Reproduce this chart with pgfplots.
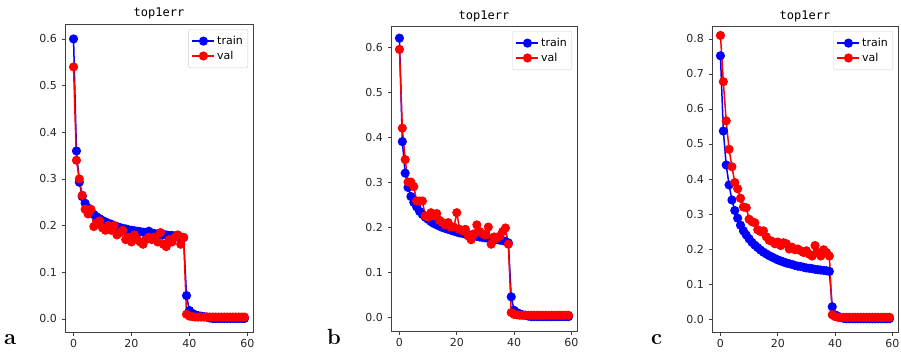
\documentclass[border=0pt]{standalone}
\usepackage{fontspec}
\usepackage{pgfplots}
\usepackage{pgfplotstable}
\pgfplotsset{compat=1.18}
\newfontfamily\djv{DejaVu Sans}
\newfontfamily\djvm{DejaVu Sans Mono}

\pgfplotstableread{
e tr va
0 0.600 0.540
1 0.360 0.340
2 0.293 0.300
3 0.262 0.265
4 0.248 0.235
5 0.238 0.225
6 0.230 0.235
7 0.224 0.198
8 0.219 0.205
9 0.215 0.210
10 0.211 0.195
11 0.208 0.190
12 0.205 0.200
13 0.203 0.190
14 0.200 0.200
15 0.198 0.180
16 0.196 0.185
17 0.194 0.190
18 0.193 0.170
19 0.191 0.175
20 0.190 0.165
21 0.189 0.180
22 0.188 0.170
23 0.187 0.165
24 0.186 0.160
25 0.185 0.170
26 0.188 0.175
27 0.184 0.170
28 0.183 0.175
29 0.182 0.165
30 0.181 0.185
31 0.181 0.160
32 0.180 0.155
33 0.179 0.170
34 0.179 0.165
35 0.178 0.175
36 0.177 0.180
37 0.176 0.160
38 0.174 0.175
39 0.050 0.010
40 0.018 0.006
41 0.012 0.005
42 0.009 0.004
43 0.007 0.004
44 0.006 0.004
45 0.005 0.004
46 0.004 0.004
47 0.002 0.004
48 0.001 0.004
49 0.001 0.004
50 0.001 0.004
51 0.001 0.004
52 0.001 0.004
53 0.001 0.004
54 0.001 0.004
55 0.001 0.004
56 0.001 0.004
57 0.001 0.004
58 0.001 0.004
59 0.001 0.004
}\dataA

\pgfplotstableread{
e tr va
0 0.620 0.595
1 0.390 0.420
2 0.320 0.350
3 0.288 0.300
4 0.268 0.300
5 0.255 0.290
6 0.245 0.258
7 0.235 0.258
8 0.228 0.258
9 0.222 0.225
10 0.217 0.222
11 0.212 0.232
12 0.208 0.225
13 0.205 0.230
14 0.202 0.215
15 0.199 0.210
16 0.197 0.205
17 0.195 0.210
18 0.193 0.200
19 0.191 0.200
20 0.189 0.232
21 0.187 0.195
22 0.186 0.192
23 0.184 0.195
24 0.183 0.180
25 0.182 0.172
26 0.180 0.185
27 0.179 0.205
28 0.178 0.190
29 0.177 0.185
30 0.176 0.182
31 0.175 0.200
32 0.174 0.162
33 0.173 0.178
34 0.172 0.175
35 0.171 0.180
36 0.170 0.190
37 0.168 0.198
38 0.165 0.162
39 0.045 0.010
40 0.015 0.006
41 0.010 0.005
42 0.007 0.004
43 0.005 0.004
44 0.004 0.004
45 0.002 0.004
46 0.001 0.004
47 0.001 0.004
48 0.001 0.004
49 0.001 0.004
50 0.001 0.004
51 0.001 0.004
52 0.001 0.004
53 0.001 0.004
54 0.001 0.004
55 0.001 0.004
56 0.001 0.004
57 0.001 0.004
58 0.001 0.004
59 0.001 0.004
}\dataB

\pgfplotstableread{
e tr va
0 0.752 0.810
1 0.537 0.678
2 0.440 0.566
3 0.383 0.485
4 0.340 0.435
5 0.310 0.390
6 0.288 0.372
7 0.268 0.345
8 0.252 0.320
9 0.240 0.318
10 0.229 0.285
11 0.219 0.278
12 0.211 0.275
13 0.204 0.255
14 0.197 0.250
15 0.191 0.252
16 0.186 0.235
17 0.181 0.225
18 0.177 0.222
19 0.173 0.215
20 0.169 0.220
21 0.166 0.210
22 0.163 0.218
23 0.160 0.215
24 0.158 0.200
25 0.156 0.205
26 0.153 0.198
27 0.151 0.200
28 0.150 0.195
29 0.148 0.190
30 0.146 0.195
31 0.145 0.185
32 0.144 0.180
33 0.142 0.210
34 0.141 0.190
35 0.140 0.180
36 0.139 0.198
37 0.138 0.190
38 0.136 0.180
39 0.035 0.012
40 0.012 0.007
41 0.008 0.005
42 0.004 0.005
43 0.002 0.005
44 0.001 0.005
45 0.001 0.005
46 0.001 0.005
47 0.001 0.005
48 0.001 0.005
49 0.001 0.005
50 0.001 0.005
51 0.001 0.005
52 0.001 0.005
53 0.001 0.005
54 0.001 0.005
55 0.001 0.005
56 0.001 0.005
57 0.001 0.005
58 0.001 0.005
59 0.001 0.005
}\dataC

\pgfplotsset{
  panel/.style={
    scale only axis, anchor=north west,
    xmin=-2.95, xmax=61.95,
    xtick={0,20,40,60},
    axis line style={black!75, line width=0.8pt},
    tick align=outside, xtick pos=bottom, ytick pos=left,
    major tick length=3.5pt,
    tick style={black!75, line width=0.8pt},
    ticklabel style={font=\djv\fontsize{11}{13}\selectfont, text=black!85},
    yticklabel style={xshift=-1pt},
    /pgf/number format/assume math mode=true,
    yticklabel style={/pgf/number format/fixed, /pgf/number format/fixed zerofill, /pgf/number format/precision=1},
    title=top1err,
    title style={font=\djvm\fontsize{12}{14}\selectfont, at={(0.5,1)}, anchor=base, inner sep=0pt, yshift=1pt},
    legend style={at={(1,1)}, anchor=north east, xshift=-5pt, yshift=-5pt,
      draw=black!20, rounded corners=2pt, fill=white,
      font=\djv\fontsize{11}{13}\selectfont, inner xsep=3pt, inner ysep=5pt, row sep=1pt,
      nodes={inner sep=2pt}},
    legend cell align=left,
    legend image code/.code={
      \draw[mark repeat=2,mark phase=2] plot coordinates {(0pt,0pt) (11pt,0pt) (22pt,0pt)};
    },
  },
  tr/.style={blue, line width=1.5pt, mark=*, mark size=3.8pt},
  va/.style={red, line width=1.5pt, mark=*, mark size=3.8pt},
}

\begin{document}
\begin{tikzpicture}
\path[use as bounding box] (0,-356pt) rectangle (901pt,0);

\begin{axis}[panel, at={(65pt,-24pt)}, width=188pt, height=308pt,
  ymin=-0.028, ymax=0.632, ytick={0,0.1,...,0.6}]
\addplot[tr] table[x=e,y=tr] {\dataA};
\addplot[va] table[x=e,y=va] {\dataA};
\legend{train,val}
\end{axis}

\begin{axis}[panel, at={(391pt,-26pt)}, width=186pt, height=305pt,
  ymin=-0.031, ymax=0.647, ytick={0,0.1,...,0.6}]
\addplot[tr] table[x=e,y=tr] {\dataB};
\addplot[va] table[x=e,y=va] {\dataB};
\legend{train,val}
\end{axis}

\begin{axis}[panel, at={(712pt,-26pt)}, width=186pt, height=306pt,
  ymin=-0.037, ymax=0.837, ytick={0,0.1,...,0.8}]
\addplot[tr] table[x=e,y=tr] {\dataC};
\addplot[va] table[x=e,y=va] {\dataC};
\legend{train,val}
\end{axis}

\node[anchor=base west, inner sep=0pt, font=\fontsize{22}{24}\selectfont\bfseries] at (4pt,-344pt) {a};
\node[anchor=base west, inner sep=0pt, font=\fontsize{22}{24}\selectfont\bfseries] at (327pt,-344pt) {b};
\node[anchor=base west, inner sep=0pt, font=\fontsize{22}{24}\selectfont\bfseries] at (651pt,-344pt) {c};
\end{tikzpicture}
\end{document}
